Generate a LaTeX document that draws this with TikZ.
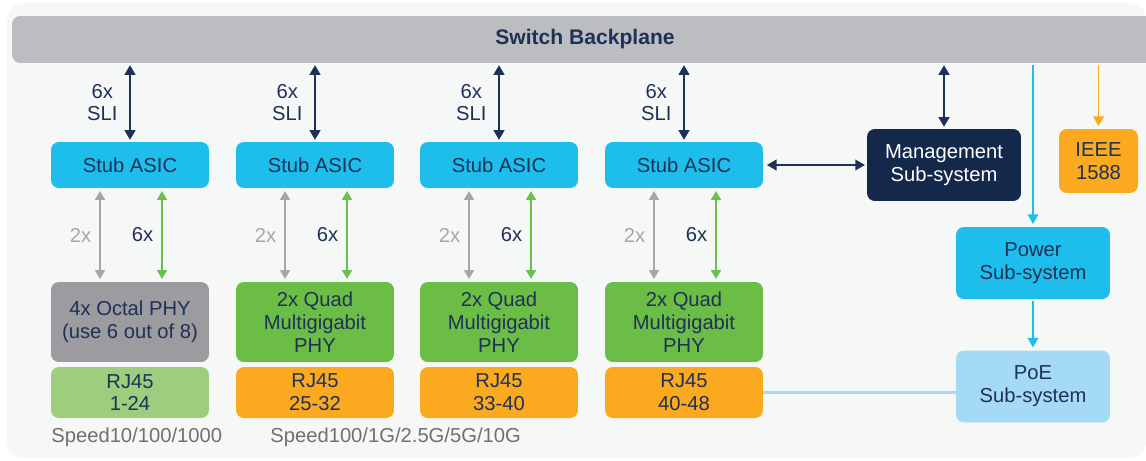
\documentclass[tikz,border=0pt]{standalone}
\usepackage{fontspec}
\setmainfont{Liberation Sans}
\usepackage{xcolor}
\definecolor{bgcol}{HTML}{F6F8F8}
\definecolor{bpgray}{HTML}{BCBDC1}
\definecolor{mcyan}{HTML}{1DBDEC}
\definecolor{mnavy}{HTML}{1E3157}
\definecolor{darknavy}{HTML}{14284B}
\definecolor{phygray}{HTML}{9B9BA0}
\definecolor{phygreen}{HTML}{6CBD45}
\definecolor{lgreen}{HTML}{9CCE7E}
\definecolor{morange}{HTML}{FBA91E}
\definecolor{lblue}{HTML}{A4DAF5}
\definecolor{agray}{HTML}{A6A6A8}
\definecolor{agreen}{HTML}{6CC04A}
\definecolor{speedgray}{HTML}{707070}
\usetikzlibrary{arrows.meta}

\begin{document}
\begin{tikzpicture}[x=0.02cm, y=-0.02cm,
    box/.style={rounded corners=4.5pt, inner sep=0pt, align=center, text=mnavy,
                font=\fontsize{11.5}{13}\selectfont},
    asicbox/.style={box, fill=mcyan, minimum width=3.16cm, minimum height=0.92cm},
    phybox/.style={box, minimum width=3.16cm, minimum height=1.6cm},
    rjbox/.style={box, minimum width=3.16cm, minimum height=1.02cm},
    sysbox/.style={box, minimum width=3.08cm, minimum height=1.44cm},
    sli/.style={{Triangle[length=5.5pt, width=6pt]}-{Triangle[length=5.5pt, width=6pt]}, mnavy, line width=1.3pt, shorten <=1pt, shorten >=1pt},
    lane/.style={{Triangle[length=5pt, width=5.5pt]}-{Triangle[length=5pt, width=5.5pt]}, line width=1.05pt, shorten <=1.5pt, shorten >=1.5pt},
    feed/.style={-{Triangle[length=5.5pt, width=6pt]}, line width=1.1pt, shorten <=1pt, shorten >=1.5pt},
    lbl/.style={font=\fontsize{11.5}{13}\selectfont, align=center, inner sep=0pt}]

    \useasboundingbox (0,0) rectangle (1146,460);
    \fill[bgcol] (7,3) [rounded corners=9pt] rectangle (1146,458);

    % backplane
    \node[box, fill=bpgray, minimum width=22.92cm, minimum height=0.94cm,
          font=\fontsize{12}{13}\selectfont\bfseries] (bp) at (585,39.5) {Switch Backplane};

    % four port groups
    \foreach \i/\x/\phycol/\phytext/\rjcol/\rjtext in
        {1/130/phygray/{4x Octal PHY\\(use 6 out of 8)}/lgreen/{RJ45\\1-24},
         2/315/phygreen/{2x Quad\\Multigigabit\\PHY}/morange/{RJ45\\25-32},
         3/499/phygreen/{2x Quad\\Multigigabit\\PHY}/morange/{RJ45\\33-40},
         4/684/phygreen/{2x Quad\\Multigigabit\\PHY}/morange/{RJ45\\40-48}} {
        \node[asicbox] (asic\i) at (\x,165) {Stub ASIC};
        \node[phybox, fill=\phycol] (phy\i) at (\x,322) {\phytext};
        \node[rjbox, fill=\rjcol] (rj\i) at (\x,392.5) {\rjtext};

        \draw[sli] (asic\i.north |- bp.south) -- (asic\i.north)
            node[lbl, midway, left=6.5pt, text=mnavy] (sli\i) {6x\\SLI};
        \draw[lane, agray] ([xshift=-0.6cm]asic\i.south) -- ([xshift=-0.6cm]phy\i.north)
            node[lbl, midway, left=4.5pt, text=agray] (two\i) {2x};
        \draw[lane, agreen] ([xshift=0.64cm]asic\i.south) -- ([xshift=0.64cm]phy\i.north)
            node[lbl, midway, left=4.5pt, text=mnavy] (six\i) {6x};
    }

    \node[lbl, anchor=west, text=speedgray] (speed1) at (51,437) {Speed10/100/1000};
    \node[lbl, anchor=west, text=speedgray] (speed2) at (270,437) {Speed100/1G/2.5G/5G/10G};

    % management, power, timing
    \node[sysbox, fill=darknavy, text=white] (mgmt) at (944,165) {Management\\Sub-system};
    \node[box, fill=morange, minimum width=1.58cm, minimum height=1.28cm] (ieee) at (1098.5,161) {IEEE\\1588};
    \node[sysbox, fill=mcyan] (power) at (1033,263) {Power\\Sub-system};
    \node[sysbox, fill=lblue] (poe) at (1033,386.5) {PoE\\Sub-system};

    \draw[sli] (mgmt.north |- bp.south) -- (mgmt.north);
    \draw[sli, shorten <=2pt] (asic4.east) -- (mgmt.west);
    \draw[feed, morange] (ieee.north |- bp.south) -- (ieee.north);
    \draw[feed, mcyan] (power.north |- bp.south) -- (power.north);
    \draw[feed, mcyan] (power.south) -- (poe.north);
    \draw[lblue, line width=1.3pt] (rj4.east) -- (rj4.east -| poe.west);

\end{tikzpicture}
\end{document}
